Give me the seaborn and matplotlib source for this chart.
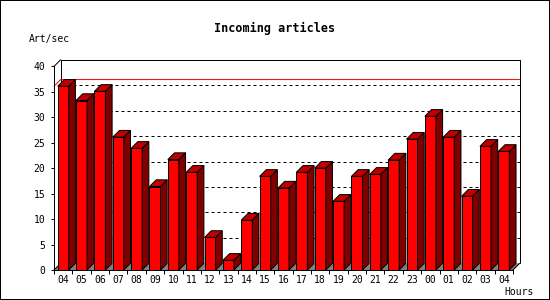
import matplotlib
matplotlib.use("Agg")
import matplotlib.pyplot as plt
import seaborn as sns
import pandas as pd
import numpy as np
from matplotlib.patches import Polygon, Rectangle
from matplotlib.lines import Line2D

# ---- data ----
hours = ["04", "05", "06", "07", "08", "09", "10", "11", "12", "13", "14", "15",
         "16", "17", "18", "19", "20", "21", "22", "23", "00", "01", "02", "03", "04"]
rates = [36.1, 33.3, 35.1, 26.1, 23.9, 16.4, 21.7, 19.2, 6.4, 1.9, 9.8, 18.4,
         16.1, 19.2, 20.0, 13.5, 18.4, 18.8, 21.6, 25.7, 30.2, 26.1, 14.5, 24.3, 23.3]
y_ticks = [0, 5, 10, 15, 20, 25, 30, 35, 40]
title = "Incoming articles"
y_label = "Art/sec"
x_label = "Hours"

sns.set_theme(style="white")
plt.rcParams['font.family'] = ['DejaVu Sans Mono', 'DejaVu Sans']
for k in ['text.color', 'axes.labelcolor', 'xtick.color', 'ytick.color', 'axes.edgecolor']:
    plt.rcParams[k] = 'black'

W, H = 550, 300
PX = 0.72  # one pixel in points at 100 dpi
fig = plt.figure(figsize=(5.5, 3), dpi=100)
fig.patch.set_facecolor('white')

left_px, right_px, top_px, bottom_px = 54, 513, 66.4, 270
ax = fig.add_axes([left_px / W, 1 - bottom_px / H,
                   (right_px - left_px) / W, (bottom_px - top_px) / H])
ax.patch.set_visible(False)

n = len(hours)
df = pd.DataFrame({"slot": list(range(n)), "rate": rates})
sns.barplot(data=df, x="slot", y="rate", color="#ff0000", saturation=1,
            width=0.6, edgecolor="black", linewidth=PX, ax=ax, zorder=3)
ax.set_xlim(-0.5, n - 0.5)
ax.set_ylim(y_ticks[0], y_ticks[-1])
ax.set_xlabel("")
ax.set_ylabel("")

depth = 6.7
dxd = depth / ((right_px - left_px) / n)
dyd = depth / ((bottom_px - top_px) / (y_ticks[-1] - y_ticks[0]))
x_lo, x_hi = -0.5, n - 0.5
y_top = y_ticks[-1]

def seg(xs, ys, **kw):
    ax.add_line(Line2D(xs, ys, clip_on=False, **kw))

# floor
ax.add_patch(Polygon([(x_lo, 0), (x_hi, 0), (x_hi + dxd, dyd), (x_lo + dxd, dyd)],
                     closed=True, fc="#808080", ec="none", zorder=0.4, clip_on=False))
# back wall frame
seg([x_lo + dxd, x_lo + dxd, x_hi + dxd, x_hi + dxd], [dyd, y_top + dyd, y_top + dyd, dyd],
    color="black", lw=PX, zorder=1.5)
seg([x_lo, x_lo + dxd], [0, dyd], color="black", lw=PX, zorder=1.5)
# dotted grid on back wall
for v in y_ticks[1:-1]:
    seg([x_lo + dxd, x_hi + dxd], [v + dyd, v + dyd], color="black", lw=PX,
        ls=(0, (3, 3)), zorder=1.6)
# max line
m = max(rates)
seg([x_lo, x_lo + dxd, x_hi + dxd], [m, m + dyd, m + dyd], color="#ff0000", lw=PX, zorder=1.7)

# 3D sides / tops
bars = list(ax.patches)
for p in bars:
    if not isinstance(p, Rectangle) or p.get_height() == 0:
        continue
    x0, w, h = p.get_x(), p.get_width(), p.get_height()
    x1 = x0 + w
    ax.add_patch(Polygon([(x1, 0), (x1 + dxd, dyd), (x1 + dxd, h + dyd), (x1, h)],
                         closed=True, fc="#800000", ec="black", lw=PX, zorder=3, clip_on=False))
    ax.add_patch(Polygon([(x0, h), (x1, h), (x1 + dxd, h + dyd), (x0 + dxd, h + dyd)],
                         closed=True, fc="#c00000", ec="black", lw=PX, zorder=3, clip_on=False))

# front axis extras
seg([x_lo, x_lo + dxd], [y_top, y_top + dyd], color="black", lw=PX, zorder=4)
seg([x_hi, x_hi + dxd], [0, dyd], color="black", lw=PX, zorder=4)

for s in ['top', 'right']:
    ax.spines[s].set_visible(False)
for s in ['left', 'bottom']:
    ax.spines[s].set_visible(True)
    ax.spines[s].set_color('black')
    ax.spines[s].set_linewidth(PX)
    ax.spines[s].set_zorder(4)

ax.set_yticks(y_ticks)
ax.set_yticklabels([str(v) for v in y_ticks])
ax.tick_params(axis='y', which='major', left=True, length=3 * PX, width=PX,
               pad=4, labelsize=7, direction='out')
ax.set_xticks(list(range(n)))
ax.set_xticklabels(hours)
ax.set_xticks(np.arange(n + 1) - 0.5, minor=True)
ax.tick_params(axis='x', which='major', bottom=True, length=0, pad=3.5, labelsize=7)
ax.tick_params(axis='x', which='minor', bottom=True, length=3.5 * PX, width=PX, direction='out')

fig.text(275 / W, 1 - 28 / H, title, ha='center', va='center', fontsize=8.5, fontweight='bold')
fig.text(29 / W, 1 - 39 / H, y_label, ha='left', va='center', fontsize=7)
fig.text(534 / W, 1 - 292 / H, x_label, ha='right', va='center', fontsize=7)

fig.add_artist(Rectangle((0, 0), 1, 1, transform=fig.transFigure, fill=False,
                         ec='black', lw=2 * PX))

fig.savefig("out.png", dpi=100, facecolor='white')
